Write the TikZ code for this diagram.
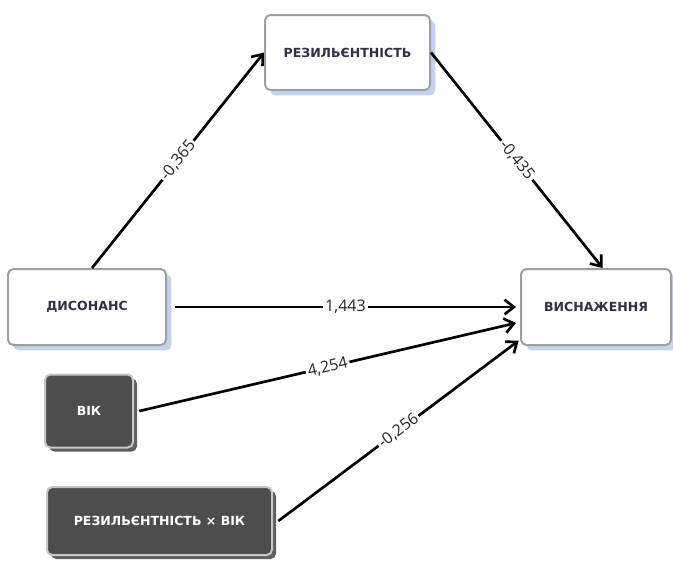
\documentclass[tikz,border=0pt]{standalone}
\usepackage{fontspec}
\setmainfont{Open Sans}
\newfontfamily\boxfont{DejaVu Sans}
\usetikzlibrary{arrows.meta,shadows}
\definecolor{navytext}{HTML}{2E3148}
\definecolor{shadowblue}{HTML}{C3D2EE}
\definecolor{darkfill}{HTML}{4D4D4D}
\begin{document}
\begin{tikzpicture}[x=0.75pt, y=-0.75pt,
  every node/.style={font=\fontsize{12}{14}\selectfont},
  varbox/.style={draw=gray!75, line width=1.5pt, rounded corners=4pt, fill=white,
    text=navytext, font=\boxfont\bfseries\fontsize{9.4}{11}\selectfont,
    drop shadow={shadow xshift=4pt, shadow yshift=-4pt, fill=shadowblue, opacity=1}},
  darkbox/.style={draw=gray!45, line width=1.5pt, rounded corners=4pt, fill=darkfill,
    text=white, font=\boxfont\bfseries\fontsize{9.4}{11}\selectfont,
    drop shadow={shadow xshift=3pt, shadow yshift=-3pt, fill=darkfill!90, opacity=1}},
  path/.style={-{Straight Barb[length=7pt,width=11pt,line width=2pt]}, line width=2pt, black},
  coef/.style={sloped, fill=white, inner sep=1.5pt, text=black!85}]
\useasboundingbox (0,0) rectangle (673,561);
\node[varbox, minimum width=123.75pt, minimum height=56.25pt] (res) at (347.5,52.5) {РЕЗИЛЬЄНТНІСТЬ};
\node[varbox, minimum width=118.5pt, minimum height=57pt] (dis) at (87,307) {ДИСОНАНС};
\node[varbox, minimum width=112.5pt, minimum height=57pt] (exh) at (596,307) {ВИСНАЖЕННЯ};
\node[darkbox, minimum width=66pt, minimum height=54.75pt] (vik) at (89,411) {ВІК};
\node[darkbox, minimum width=168.75pt, minimum height=51pt] (rxv) at (159.5,521) {РЕЗИЛЬЄНТНІСТЬ × ВІК};
\draw[path] ([xshift=3.75pt]dis.north) -- node[coef]{-0,365} (res.west);
\draw[path] (res.east) -- node[coef]{-0,435} ([xshift=5pt]exh.north);
\draw[path] ([xshift=6pt]dis.east) -- node[coef]{1,443} ([xshift=-3pt]exh.west);
\draw[path] ([xshift=4pt]vik.east) -- node[coef]{4,254} ([xshift=-3pt,yshift=-12pt]exh.west);
\draw[path] ([xshift=4pt]rxv.east) -- node[coef]{-0,256} ([xshift=-1pt,yshift=4pt]exh.south west);
\end{tikzpicture}
\end{document}
